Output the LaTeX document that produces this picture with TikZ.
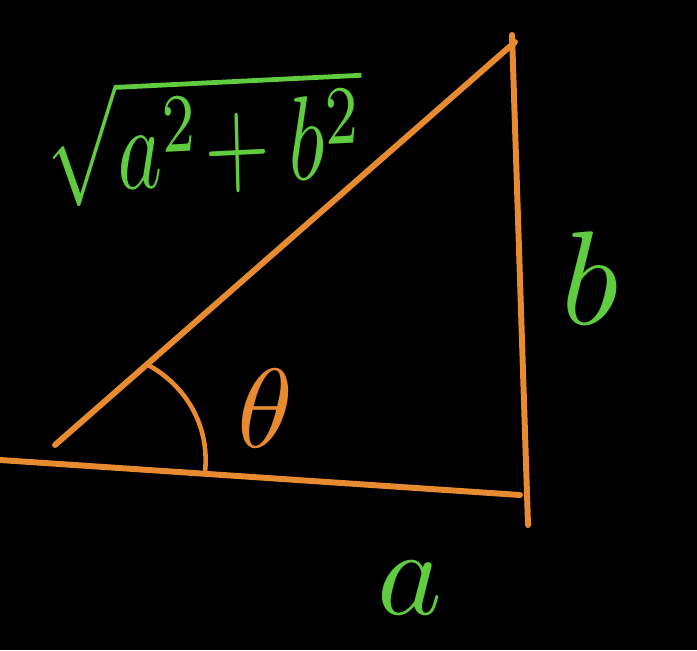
\documentclass[tikz,border=0pt]{standalone}
\begin{document}
\begin{tikzpicture}[
  side/.style={draw=tri, line width=1.7pt, line cap=round},
  glabel/.style={text=lab, inner sep=0pt},
]
\definecolor{tri}{RGB}{232,138,48}
\definecolor{lab}{RGB}{96,204,64}
\fill[black] (0,0) rectangle (6.97,6.50);
\useasboundingbox (0,0) rectangle (6.97,6.50);
% vertices
\coordinate (bl) at (0,1.90);
\coordinate (br) at (5.20,1.55);
\coordinate (hl) at (0.55,2.05);
\coordinate (ht) at (5.15,6.08);
\coordinate (vt) at (5.12,6.15);
\coordinate (vb) at (5.28,1.25);
\coordinate (arcA) at (1.48,2.85);
\coordinate (arcB) at (2.05,1.78);
% sides
\draw[side] (bl) -- (br);
\draw[side] (hl) -- (ht);
\draw[side] (vt) -- (vb);
\draw[side, line width=1.3pt] (arcA) .. controls (1.85,2.65) and (2.10,2.25) .. (arcB);
% labels
\node[glabel, scale=3.2, text=tri] (theta) at (2.65,2.42) {$\theta$};
\node[glabel, scale=3.8] (b) at (5.90,3.72) {$b$};
\node[glabel, scale=3.5] (a) at (4.10,0.62) {$a$};
\node[glabel, xscale=2.4, yscale=3.4, rotate=2] (hyp) at (2.05,5.12) {$\sqrt{a^2\!+b^2}$};
\end{tikzpicture}
\end{document}
